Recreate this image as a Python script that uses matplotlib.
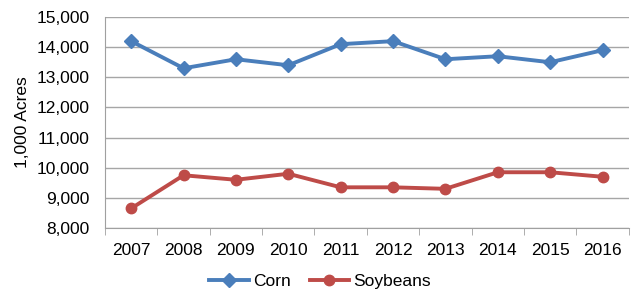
import matplotlib.pyplot as plt
from matplotlib.ticker import FuncFormatter, FixedLocator

plt.rcParams['font.family'] = ['Liberation Sans', 'DejaVu Sans']

years = ['2007', '2008', '2009', '2010', '2011', '2012', '2013', '2014', '2015', '2016']
corn = [14200, 13300, 13600, 13400, 14100, 14200, 13600, 13700, 13500, 13900]
soybeans = [8650, 9750, 9600, 9800, 9350, 9350, 9300, 9850, 9850, 9700]

fig = plt.figure(figsize=(6.31, 2.94), dpi=100)
ax = fig.add_axes([0.1664, 0.2245, 0.83, 0.7175])

x = list(range(len(years)))
ax.plot(x, corn, color='#4A7EBB', lw=2.8, marker='D', ms=7, label='Corn')
ax.plot(x, soybeans, color='#BE4B48', lw=2.8, marker='o', ms=7.5, label='Soybeans')

ax.set_xlim(-0.5, len(years) - 0.5)
ax.set_ylim(8000, 15000)
ax.set_yticks(range(8000, 15001, 1000))
ax.yaxis.set_major_formatter(FuncFormatter(lambda v, p: f'{int(v):,}'))
ax.set_xticks(x)
ax.set_xticklabels(years)
ax.xaxis.set_minor_locator(FixedLocator([i - 0.5 for i in range(len(years) + 1)]))
ax.tick_params(axis='x', which='major', length=0, pad=11, labelsize=12.5)
ax.tick_params(axis='x', which='minor', length=5, color='#A0A0A0')
ax.tick_params(axis='y', length=0, pad=11, labelsize=12.5)

ax.grid(axis='y', color='#A6A6A6', lw=1)
ax.set_axisbelow(True)
for s in ['top', 'right']:
    ax.spines[s].set_visible(False)
ax.spines['left'].set_color('#A0A0A0')
ax.spines['bottom'].set_color('#A0A0A0')

ax.set_ylabel('1,000 Acres', fontsize=12.5, labelpad=5)

fig.legend(loc='lower center', bbox_to_anchor=(0.507, -0.035), ncol=2, frameon=False,
           fontsize=12.5, handlelength=2.3, columnspacing=1.1, handletextpad=0.2)

fig.savefig('out.png', dpi=100)
